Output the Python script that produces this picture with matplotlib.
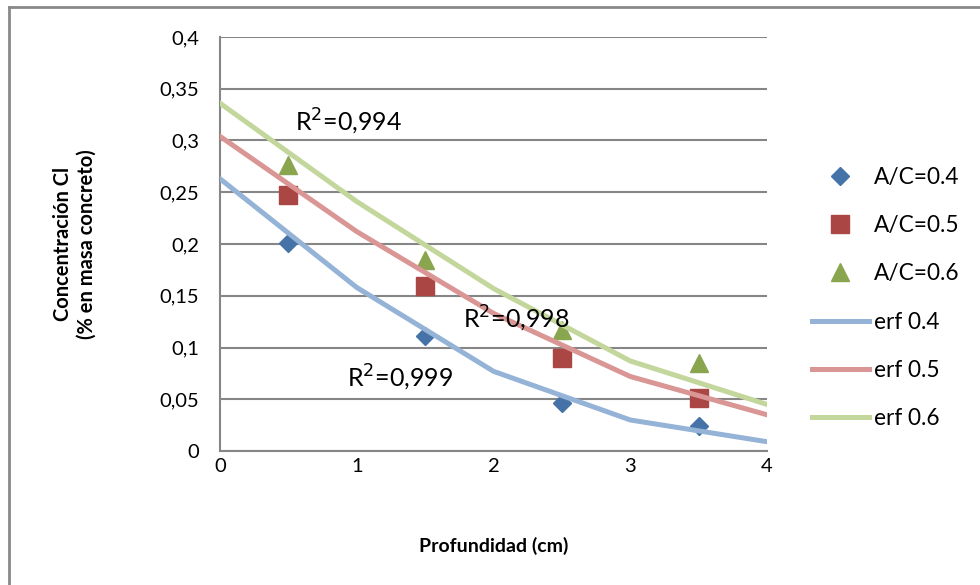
import matplotlib
matplotlib.use("Agg")
import matplotlib.pyplot as plt
from matplotlib.lines import Line2D
from matplotlib.ticker import FuncFormatter

plt.rcParams['font.family'] = ['Lato', 'DejaVu Sans']

# measured points (depth in cm, % chloride)
depth = [0.5, 1.5, 2.5, 3.5]
ac04 = [0.201, 0.111, 0.046, 0.024]
ac05 = [0.247, 0.159, 0.090, 0.051]
ac06 = [0.276, 0.185, 0.117, 0.085]

# erf fitted curves
erf_x = [0, 1, 2, 3, 4]
erf04 = [0.263, 0.158, 0.077, 0.030, 0.009]
erf05 = [0.304, 0.212, 0.133, 0.072, 0.035]
erf06 = [0.336, 0.241, 0.157, 0.087, 0.045]

r2_labels = ["R$^2$=0,994", "R$^2$=0,998", "R$^2$=0,999"]
r2_pos = [(0.55, 0.318), (1.78, 0.128), (0.93, 0.071)]

fig = plt.figure(figsize=(9.8, 5.85), dpi=100)
ax = fig.add_axes([0.2245, 0.229, 0.5582, 0.7078])

ax.plot(depth, ac04, 'D', color='#4572A7', ms=9.5, ls='none', label='A/C=0.4', zorder=3)
ax.plot(depth, ac05, 's', color='#AA4643', ms=13, ls='none', label='A/C=0.5', zorder=3)
ax.plot(depth, ac06, '^', color='#89A54E', ms=13.5, ls='none', label='A/C=0.6', zorder=3)
ax.plot(erf_x, erf04, color='#95B3D7', lw=3.6, label='erf 0.4', zorder=4)
ax.plot(erf_x, erf05, color='#D99694', lw=3.6, label='erf 0.5', zorder=4)
ax.plot(erf_x, erf06, color='#C3D69B', lw=3.6, label='erf 0.6', zorder=4)

for t, (x, y) in zip(r2_labels, r2_pos):
    ax.text(x, y, t, fontsize=18, va='center', ha='left', zorder=5)

ax.set_xlim(0, 4)
ax.set_ylim(0, 0.4)
ax.set_xticks([0, 1, 2, 3, 4])
ax.set_yticks([i * 0.05 for i in range(9)])
ax.yaxis.set_major_formatter(FuncFormatter(lambda v, p: ('%g' % round(v, 2)).replace('.', ',')))
ax.tick_params(length=0, labelsize=14.5)
ax.tick_params(axis='y', pad=15)
ax.tick_params(axis='x', pad=5)
ax.grid(axis='y', color='#868686', lw=1.5)
ax.set_axisbelow(True)
for s in ['top', 'right']:
    ax.spines[s].set_visible(False)
for s in ['left', 'bottom']:
    ax.spines[s].set_color('#868686')
    ax.spines[s].set_linewidth(1.5)

ax.set_xlabel('Profundidad (cm)', fontsize=14, fontweight='bold', va='center')
ax.xaxis.set_label_coords(0.5, -0.2295)
ax.set_ylabel('Concentración Cl\n(% en masa concreto)', fontsize=14.5, fontweight='bold', va='center')
ax.yaxis.set_label_coords(-0.265, 0.5)

fig.legend(loc='center left', bbox_to_anchor=(0.8286, 0.4906), frameon=False,
           fontsize=16.3, handlelength=2.5, handletextpad=0.25, labelspacing=1.2,
           borderpad=0, borderaxespad=0)

# outer chart border (left and top edges visible)
fig.add_artist(Line2D([0.0095, 0.0095], [0, 0.988], color='#898989', lw=2))
fig.add_artist(Line2D([0.0095, 1.0], [0.988, 0.988], color='#898989', lw=2))

fig.savefig('out.png', dpi=100)
